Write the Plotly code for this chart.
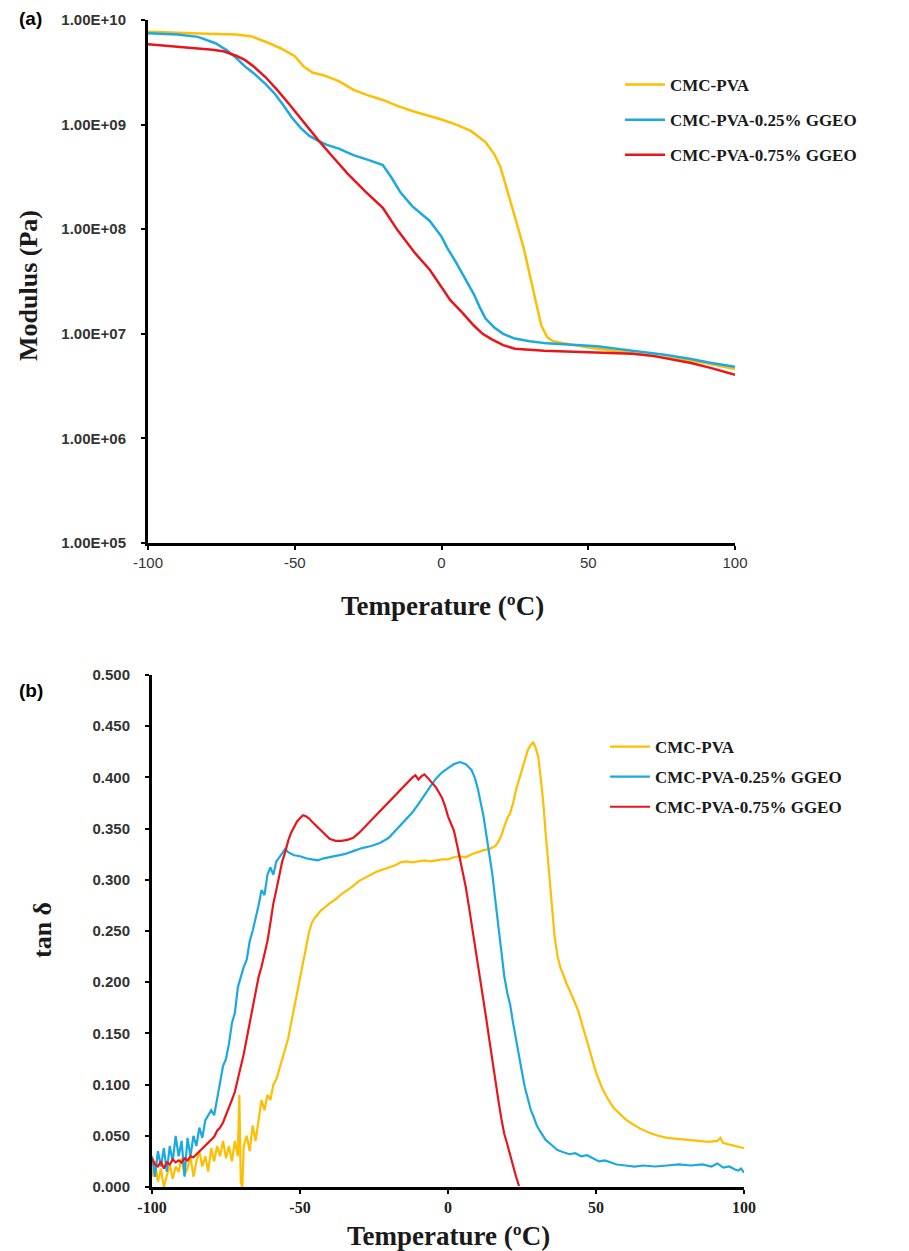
import plotly.graph_objects as go

# ---- (a) storage modulus, Pa ----
mod_pva_t = [-100, -90, -80, -70, -65, -60, -55, -50, -47, -44, -40, -35, -30, -25, -20, -15,
             -10, -5, 0, 5, 10, 15, 18, 20, 22, 24, 26, 28, 30, 32, 34, 36, 38, 42, 50, 60,
             70, 80, 90, 100]
mod_pva = [7.7e9, 7.6e9, 7.4e9, 7.25e9, 7.0e9, 6.2e9, 5.4e9, 4.5e9, 3.6e9, 3.15e9, 2.95e9,
           2.6e9, 2.15e9, 1.9e9, 1.72e9, 1.51e9, 1.35e9, 1.23e9, 1.12e9, 1.0e9, 8.7e8, 6.8e8,
           5.2e8, 4.0e8, 2.6e8, 1.65e8, 1.05e8, 6.6e7, 3.8e7, 2.1e7, 1.2e7, 9.3e6, 8.5e6,
           8.1e6, 7.4e6, 6.8e6, 6.3e6, 5.75e6, 5.25e6, 4.6e6]

mod_025_t = [-100, -90, -83, -77, -73, -70, -67, -64, -60, -57, -54, -51, -48, -45, -42, -39,
             -35, -30, -25, -20, -17, -14, -10, -6, -4, 0, 2, 5, 8, 11, 13, 15, 18, 21, 25,
             30, 36, 45, 53, 65, 76, 85, 92, 100]
mod_025 = [7.45e9, 7.25e9, 6.9e9, 6.0e9, 5.1e9, 4.35e9, 3.6e9, 3.1e9, 2.45e9, 2.0e9, 1.55e9,
           1.17e9, 9.3e8, 7.8e8, 7.0e8, 6.4e8, 5.9e8, 5.1e8, 4.6e8, 4.1e8, 3.1e8, 2.25e8,
           1.66e8, 1.32e8, 1.2e8, 8.5e7, 6.6e7, 4.8e7, 3.4e7, 2.4e7, 1.8e7, 1.4e7, 1.15e7,
           1.0e7, 9.0e6, 8.5e6, 8.1e6, 7.85e6, 7.6e6, 6.9e6, 6.3e6, 5.75e6, 5.25e6, 4.85e6]

mod_075_t = [-100, -90, -83, -78, -74, -70, -67, -64, -60, -56, -52, -47, -42, -37, -32, -26,
             -20, -15, -9, -4, 0, 3, 7, 11, 14, 17, 21, 25, 35, 45, 55, 65, 72, 78, 85, 92, 100]
mod_075 = [5.85e9, 5.55e9, 5.35e9, 5.2e9, 5.0e9, 4.55e9, 4.15e9, 3.6e9, 2.85e9, 2.15e9,
           1.58e9, 1.05e9, 7.1e8, 4.9e8, 3.4e8, 2.3e8, 1.6e8, 9.8e7, 5.9e7, 4.1e7, 2.8e7,
           2.1e7, 1.6e7, 1.2e7, 1.0e7, 8.9e6, 7.8e6, 7.2e6, 6.9e6, 6.75e6, 6.6e6, 6.45e6,
           6.15e6, 5.75e6, 5.25e6, 4.7e6, 4.05e6]

# ---- (b) tan delta ----
tan_pva_t = [-100, -99, -98, -97, -96, -95, -94, -93, -92, -91, -90, -89, -88, -87, -86, -85,
             -84, -83, -82, -81, -80, -79, -78, -77, -76, -75, -74, -73, -72, -71, -70.5, -70,
             -69.5, -69, -68, -67, -66, -65, -64, -63, -62, -61, -60, -59, -58, -57, -56, -55,
             -54, -53, -52, -51, -50, -49, -48, -47, -46, -45, -44, -43, -42, -40, -38, -36,
             -34, -32, -30, -28, -26, -24, -22, -20, -18, -16, -14, -12, -10, -8, -6, -4, -2,
             0, 2, 4, 6, 8, 10, 12, 14, 16, 17, 18, 19, 20, 21, 22, 23, 24, 25, 26, 27, 28,
             28.8, 29.5, 30.5, 31.3, 32.2, 33, 34, 35, 36, 37, 38, 39, 40, 42, 44, 46, 48, 50,
             52, 54, 56, 58, 60, 62, 65, 68, 71, 74, 77, 80, 84, 88, 91, 92, 93, 96, 98, 100]
tan_pva = [0.010, 0.025, 0.005, 0.018, 0.000, 0.012, 0.022, 0.008, 0.020, 0.015, 0.028, 0.012,
           0.018, 0.030, 0.010, 0.025, 0.035, 0.020, 0.030, 0.015, 0.038, 0.025, 0.040, 0.030,
           0.045, 0.028, 0.040, 0.025, 0.045, 0.030, 0.090, 0.005, 0.000, 0.040, 0.050, 0.035,
           0.060, 0.045, 0.065, 0.085, 0.075, 0.090, 0.085, 0.100, 0.105, 0.115, 0.125, 0.135,
           0.145, 0.160, 0.175, 0.190, 0.205, 0.218, 0.235, 0.248, 0.258, 0.263, 0.266, 0.270,
           0.272, 0.277, 0.281, 0.286, 0.290, 0.294, 0.299, 0.302, 0.305, 0.308, 0.310, 0.312,
           0.314, 0.317, 0.318, 0.317, 0.318, 0.319, 0.318, 0.319, 0.320, 0.320, 0.322, 0.323,
           0.322, 0.325, 0.327, 0.329, 0.330, 0.333, 0.337, 0.343, 0.352, 0.360, 0.365, 0.375,
           0.388, 0.398, 0.408, 0.418, 0.427, 0.432, 0.434, 0.430, 0.420, 0.400, 0.375, 0.345,
           0.310, 0.275, 0.245, 0.225, 0.214, 0.207, 0.199, 0.186, 0.172, 0.152, 0.133, 0.112,
           0.097, 0.086, 0.077, 0.071, 0.066, 0.062, 0.057, 0.053, 0.050, 0.048, 0.047, 0.046,
           0.045, 0.044, 0.045, 0.048, 0.043, 0.041, 0.039, 0.038]

tan_025_t = [-100, -99, -98, -97, -96, -95, -94, -93, -92, -91, -90, -89, -88, -87, -86, -85,
             -84, -83, -82, -81, -80, -79, -78, -77, -76, -75, -74, -73, -72, -71, -70, -69,
             -68, -67, -66, -65, -64, -63, -62, -61, -60, -59, -58, -57, -56, -55, -54, -52,
             -50, -48, -46, -44, -42, -40, -38, -35, -32, -29, -26, -23, -20, -18, -16, -14,
             -12, -10, -8, -6, -4, -2, 0, 2, 4, 6, 8, 9, 10, 11, 12, 13, 14, 15, 16, 17, 18,
             19, 20, 21, 22, 23, 24, 25, 26, 27, 28, 29, 30, 31, 32, 33, 35, 37, 39, 41, 43,
             45, 47, 49, 51, 53, 55, 57, 60, 63, 66, 70, 74, 78, 82, 86, 89, 91, 93, 95, 97,
             98, 99, 100]
tan_025 = [0.030, 0.010, 0.035, 0.020, 0.038, 0.015, 0.040, 0.025, 0.050, 0.030, 0.045, 0.010,
           0.048, 0.030, 0.050, 0.040, 0.058, 0.048, 0.065, 0.070, 0.075, 0.070, 0.085, 0.100,
           0.118, 0.125, 0.140, 0.160, 0.170, 0.195, 0.205, 0.215, 0.222, 0.240, 0.250, 0.262,
           0.275, 0.290, 0.285, 0.305, 0.312, 0.305, 0.318, 0.322, 0.326, 0.330, 0.327, 0.324,
           0.323, 0.321, 0.320, 0.319, 0.321, 0.322, 0.323, 0.325, 0.328, 0.331, 0.333, 0.336,
           0.341, 0.347, 0.353, 0.360, 0.366, 0.374, 0.383, 0.391, 0.399, 0.405, 0.409, 0.413,
           0.415, 0.413, 0.407, 0.400, 0.390, 0.377, 0.362, 0.343, 0.325, 0.305, 0.280, 0.255,
           0.230, 0.206, 0.190, 0.178, 0.160, 0.143, 0.127, 0.112, 0.097, 0.085, 0.075, 0.068,
           0.060, 0.055, 0.050, 0.046, 0.041, 0.036, 0.034, 0.032, 0.033, 0.030, 0.031, 0.028,
           0.025, 0.026, 0.024, 0.022, 0.021, 0.020, 0.021, 0.020, 0.021, 0.022, 0.021, 0.022,
           0.020, 0.023, 0.019, 0.020, 0.017, 0.016, 0.018, 0.014]

tan_075_t = [-100, -99, -98, -97, -96, -95, -94, -93, -92, -91, -90, -89, -88, -87, -86, -85,
             -84, -83, -82, -81, -80, -79, -78, -77, -76, -75, -74, -73, -72, -71, -70, -69,
             -68, -67, -66, -65, -64, -63, -62, -61, -60, -59, -58, -57, -56, -55, -54, -53,
             -52, -51, -50, -49, -48, -47, -46, -45, -44, -43, -42, -41, -40, -38, -36, -34,
             -32, -30, -28, -26, -24, -22, -20, -18, -16, -14, -12, -11, -10, -9, -8, -7, -6,
             -5, -4, -3, -2, -1, 0, 1, 2, 3, 4, 5, 6, 7, 8, 9, 10, 11, 12, 13, 14, 15, 16, 17,
             18, 19, 20, 21, 22, 23, 24]
tan_075 = [0.028, 0.022, 0.020, 0.025, 0.018, 0.024, 0.022, 0.027, 0.024, 0.026, 0.024, 0.028,
           0.026, 0.030, 0.029, 0.032, 0.035, 0.038, 0.041, 0.044, 0.047, 0.049, 0.055, 0.058,
           0.063, 0.070, 0.078, 0.085, 0.093, 0.105, 0.118, 0.130, 0.145, 0.160, 0.175, 0.190,
           0.205, 0.215, 0.228, 0.240, 0.258, 0.277, 0.290, 0.305, 0.318, 0.327, 0.338, 0.346,
           0.352, 0.357, 0.360, 0.363, 0.362, 0.360, 0.357, 0.354, 0.351, 0.348, 0.345, 0.342,
           0.340, 0.338, 0.338, 0.339, 0.341, 0.346, 0.352, 0.358, 0.364, 0.370, 0.377, 0.382,
           0.389, 0.395, 0.400, 0.402, 0.398, 0.401, 0.403, 0.400, 0.397, 0.394, 0.390, 0.385,
           0.380, 0.372, 0.362, 0.355, 0.348, 0.335, 0.322, 0.307, 0.293, 0.275, 0.257, 0.237,
           0.218, 0.200, 0.182, 0.163, 0.143, 0.122, 0.102, 0.085, 0.067, 0.052, 0.042, 0.031,
           0.020, 0.010, 0.001]

names = ["CMC-PVA", "CMC-PVA-0.25% GGEO", "CMC-PVA-0.75% GGEO"]
colors = ["#FFBE00", "#1CA9E1", "#E8161B"]
temp_ticks = [-100, -50, 0, 50, 100]

W, H = 909, 1251
OFF = 8  # the page body margin shifts the figure by 8px


def px(x):
    return (x - OFF) / W


def py(y):
    return 1 - (y - OFF) / H


fig = go.Figure()

top = [(mod_pva_t, mod_pva), (mod_025_t, mod_025), (mod_075_t, mod_075)]
bottom = [(tan_pva_t, tan_pva), (tan_025_t, tan_025), (tan_075_t, tan_075)]

for i, (t, v) in enumerate(top):
    fig.add_trace(go.Scatter(x=t, y=v, mode="lines", name=names[i], legendgroup="a%d" % i,
                             line=dict(color=colors[i], width=2.5),
                             xaxis="x", yaxis="y", legend="legend"))
for i, (t, v) in enumerate(bottom):
    fig.add_trace(go.Scatter(x=t, y=v, mode="lines", name=names[i], legendgroup="b%d" % i,
                             line=dict(color=colors[i], width=2.2),
                             xaxis="x2", yaxis="y2", legend="legend2"))

axis_common = dict(showline=True, linewidth=3, linecolor="black", showgrid=False,
                   zeroline=False, ticks="outside", ticklen=4, tickwidth=2,
                   tickcolor="black", automargin=False)
sans_tick = dict(family="Liberation Sans", size=15, color="#333333", weight="bold")
serif_tick = dict(family="Liberation Serif", size=16, color="#222222", weight="bold")
legend_font = dict(family="Liberation Serif", size=17, color="#1a1a1a", weight="bold")

log_ticks = [1e5, 1e6, 1e7, 1e8, 1e9, 1e10]
tan_ticks = [i * 0.05 for i in range(11)]

fig.update_layout(
    width=W, height=H, margin=dict(l=0, r=0, t=0, b=0, autoexpand=False),
    paper_bgcolor="white", plot_bgcolor="white",
    xaxis=dict(domain=[px(148), px(735)], range=[-100, 100], anchor="y",
               tickvals=temp_ticks, ticktext=[str(v) for v in temp_ticks],
               tickfont=dict(family="Liberation Sans", size=15, color="#333333"),
               **axis_common),
    yaxis=dict(domain=[py(543), py(20)], type="log", range=[5, 10], anchor="x",
               tickvals=log_ticks, ticktext=["1.00E+%02d" % k for k in range(5, 11)],
               tickfont=sans_tick, ticklabelstandoff=12, **axis_common),
    xaxis2=dict(domain=[px(152), px(744)], range=[-100, 100], anchor="y2",
                tickvals=temp_ticks, ticktext=[str(v) for v in temp_ticks],
                tickfont=serif_tick, **axis_common),
    yaxis2=dict(domain=[py(1187), py(675)], range=[0, 0.5], anchor="x2",
                tickvals=tan_ticks, ticktext=["%.3f" % v for v in tan_ticks],
                tickfont=sans_tick, ticklabelstandoff=12, **axis_common),
    legend=dict(x=px(620), y=py(67), xanchor="left", yanchor="top", font=legend_font,
                tracegroupgap=10, itemwidth=40, bgcolor="rgba(0,0,0,0)"),
    legend2=dict(x=px(605), y=py(729), xanchor="left", yanchor="top", font=legend_font,
                 tracegroupgap=5, itemwidth=40, bgcolor="rgba(0,0,0,0)"),
    showlegend=True,
)

title_font = dict(family="Liberation Serif", size=27, color="#1a1a1a", weight="bold")
ylab_font = dict(family="Liberation Serif", size=26, color="#1a1a1a", weight="bold")
label_font = dict(family="Liberation Sans", size=19, color="black", weight="bold")
annots = [
    dict(text="(a)", x=px(17), y=py(18), font=label_font),
    dict(text="(b)", x=px(17), y=py(690), font=label_font),
    dict(text="Modulus (Pa)", x=px(28), y=py(286), textangle=-90, font=ylab_font),
    dict(text="Temperature (ºC)", x=px(442), y=py(606), font=title_font),
    dict(text="tan δ", x=px(42), y=py(930), textangle=-90, font=ylab_font),
    dict(text="Temperature (ºC)", x=px(448), y=py(1236), font=title_font),
]
for a in annots:
    fig.add_annotation(xref="paper", yref="paper", showarrow=False,
                       xanchor="left" if a["text"].startswith("(") else "center",
                       yanchor="middle", **a)

fig.write_html("out.html")
